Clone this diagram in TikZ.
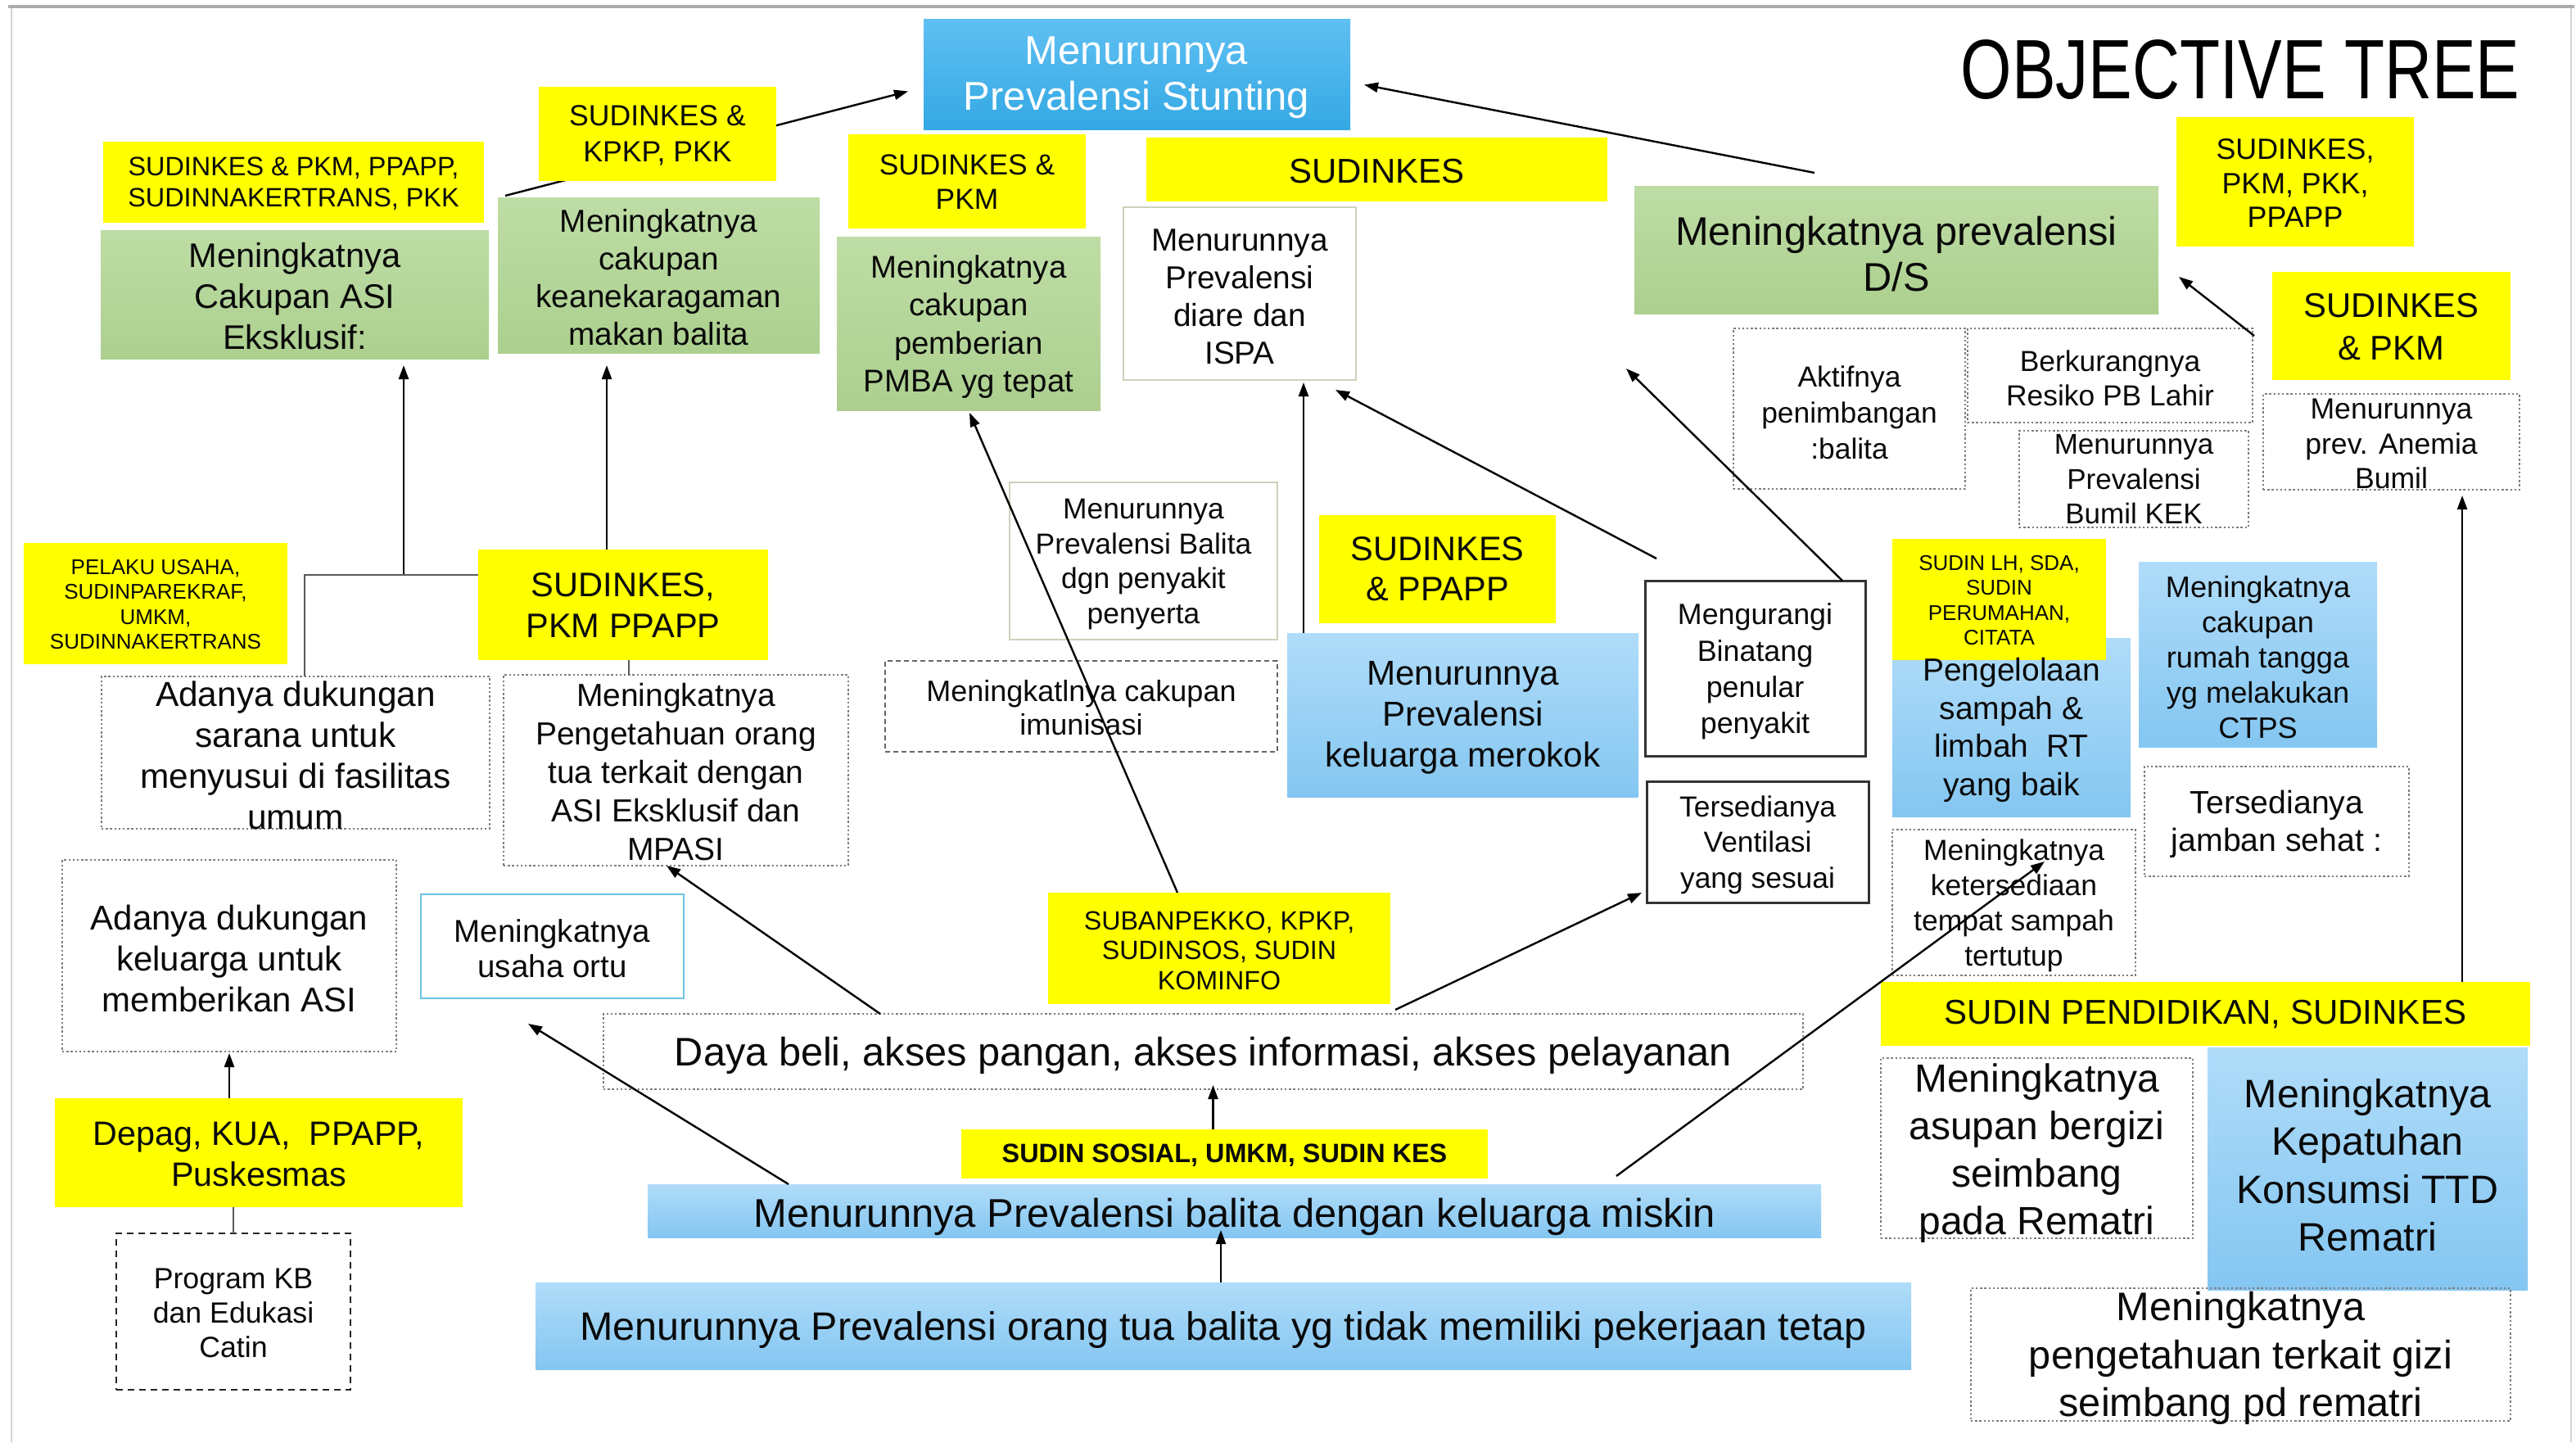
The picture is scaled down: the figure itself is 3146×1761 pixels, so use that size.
\documentclass[tikz,border=0pt]{standalone}
\usepackage{fontspec}
\setmainfont{Liberation Sans}
\newfontfamily\titlefont{Liberation Sans}[FakeStretch=0.78]
\usetikzlibrary{arrows.meta,fit,calc}
\definecolor{ylw}{RGB}{255,255,0}
\definecolor{grT}{RGB}{190,221,166}
\definecolor{grB}{RGB}{172,207,142}
\definecolor{blT}{RGB}{176,220,249}
\definecolor{blB}{RGB}{132,198,241}
\definecolor{stT}{RGB}{95,192,242}
\definecolor{stB}{RGB}{52,168,228}
\definecolor{dotgray}{RGB}{125,125,125}
\definecolor{txtc}{RGB}{10,10,10}
\newcommand\myfs[2]{\fontsize{#1pt}{#2pt}\selectfont}
\newcommand\mybox[6]{\node[#2, fit={(#3,#4) (#5,#6)}] (#1) {};}
\newcommand\mytext[5]{\node[txt, font=\myfs{#2}{#3}] (#1) at (#4) {#5};}
\tikzset{
  bx/.style={inner sep=0pt, outer sep=0pt},
  ybox/.style={bx, fill=ylw},
  gbox/.style={bx, top color=grT, bottom color=grB},
  bbox/.style={bx, top color=blT, bottom color=blB},
  stbox/.style={bx, top color=stT, bottom color=stB},
  wbox/.style={bx, fill=white, draw={rgb,255:red,205;green,210;blue,188}, line width=0.8pt},
  ubox/.style={bx, fill=white, draw={rgb,255:red,110;green,195;blue,230}, line width=1.2pt},
  dbox/.style={bx, draw=dotgray, line width=0.8pt, dash pattern=on 1.2pt off 1.4pt},
  dashbox/.style={bx, draw=black!60, line width=0.9pt, dash pattern=on 3pt off 2pt},
  kbbox/.style={bx, draw=black!85, line width=1.2pt, dash pattern=on 4pt off 3pt},
  sbox/.style={bx, fill=white, draw=black!80, line width=1.5pt},
  txt/.style={align=center, inner sep=0pt, text=txtc},
  arr/.style={draw=black, line width=1.2pt, -{Triangle[length=8.5pt,width=6pt]}},
  ln/.style={draw=black!65, line width=1pt},
}
\begin{document}
\begin{tikzpicture}[x=0.5pt, y=-0.5pt]
\useasboundingbox (0,0) rectangle (3146,1761);
\fill[white] (0,0) rectangle (3146,1761);
\draw[gray!35, line width=1pt] (14,1761) -- (14,8);
\draw[gray!35, line width=1pt] (3140,8) -- (3140,1761);
\draw[gray!65, line width=2pt] (10,8) -- (3144,8);

% ---- boxes ----
\mybox{stunt}{stbox}{1128}{23}{1649}{158}
\mybox{y1}{ybox}{126}{173}{591}{272}
\mybox{g1}{gbox}{123}{281}{597}{438}
\mybox{g2}{gbox}{608}{241}{1001}{431}
\draw[arr] ($(g2.north west)+(9,-2)$) -- ($(stunt.west)+(-19,21)$);
\mybox{y2}{ybox}{658}{106}{948}{221}
\mybox{y3}{ybox}{1036}{164}{1326}{279}
\mybox{pmba}{gbox}{1022}{289}{1344}{501}
\mybox{y4}{ybox}{1400}{168}{1963}{246}
\mybox{diare}{wbox}{1372}{253}{1656}{464}
\mybox{ds}{gbox}{1996}{227}{2636}{383}
\mybox{y5}{ybox}{2658}{143}{2948}{301}
\mybox{y6}{ybox}{2775}{332}{3066}{464}
\mybox{akt}{dbox}{2117}{401}{2400}{597}
\mybox{berk}{dbox}{2403}{401}{2751}{516}
\mybox{kek}{dbox}{2466}{526}{2746}{644}
\mybox{anem}{dbox}{2764}{481}{3077}{598}
\mybox{y7}{ybox}{29}{663}{351}{811}
\mybox{y8}{ybox}{584}{671}{938}{806}
\mybox{ada1}{dbox}{124}{826}{598}{1012}
\mybox{peng}{dbox}{615}{824}{1036}{1057}
\mybox{ada2}{dbox}{76}{1050}{484}{1284}
\mybox{usaha}{ubox}{514}{1092}{835}{1219}
\mybox{balp}{wbox}{1233}{589}{1560}{781}
\mybox{imun}{dashbox}{1081}{807}{1560}{918}
\mybox{y9}{ybox}{1611}{629}{1900}{761}
\mybox{mer}{bbox}{1572}{773}{2001}{973}
\mybox{meng}{sbox}{2009}{709}{2278}{923}
\mybox{vent}{sbox}{2011}{954}{2282}{1102}
\mybox{pengel}{bbox}{2311}{779}{2602}{997}
\mybox{y10}{ybox}{2311}{658}{2572}{806}
\mybox{ctps}{bbox}{2612}{686}{2903}{912}
\mybox{jamb}{dbox}{2619}{936}{2942}{1070}
\mybox{temp}{dbox}{2311}{1013}{2608}{1191}
\mybox{y11}{ybox}{1280}{1090}{1698}{1226}
\mybox{daya}{dbox}{737}{1238}{2202}{1330}
\mybox{y12}{ybox}{1174}{1379}{1817}{1439}
\mybox{mis}{bbox}{791}{1446}{2224}{1511}
\mybox{bot}{bbox}{654}{1566}{2334}{1672}
\mybox{y13}{ybox}{67}{1341}{565}{1474}
\mybox{kb}{kbbox}{142}{1506}{428}{1697}
\mybox{y14}{ybox}{2297}{1199}{3090}{1277}
\mybox{asup}{dbox}{2297}{1292}{2678}{1512}
\mybox{ttd}{bbox}{2696}{1279}{3087}{1575}
\mybox{pgz}{dbox}{2407}{1573}{3066}{1735}

% ---- texts ----
\node[txt, text=white, font=\myfs{24.5}{28}] (stuntt) at (1388,95) {Menurunnya\\Prevalensi Stunting};
\mytext{y1t}{16.2}{19}{358.5,224}{SUDINKES \& PKM, PPAPP,\\SUDINNAKERTRANS, PKK}
\mytext{g1t}{20.8}{25}{360,361.5}{Meningkatnya\\Cakupan ASI\\Eksklusif:}
\mytext{y2t}{17.8}{22}{803,165.5}{SUDINKES \&\\KPKP, PKK}
\mytext{g2t}{19.4}{23}{804.5,339}{Meningkatnya\\cakupan\\keanekaragaman\\makan balita}
\mytext{y3t}{17.7}{21}{1181,222}{SUDINKES \&\\PKM}
\mytext{pmbat}{19.2}{23.3}{1183,399}{Meningkatnya\\cakupan\\pemberian\\PMBA yg tepat}
\mytext{y4t}{21}{25}{1681.5,208.6}{SUDINKES}
\mytext{diaret}{19.4}{23}{1514,362}{Menurunnya\\Prevalensi\\diare dan\\ISPA}
\mytext{dst}{24.4}{28}{2316,310}{Meningkatnya prevalensi\\D/S}
\mytext{y5t}{17.9}{20.7}{2803,223.5}{SUDINKES,\\PKM, PKK,\\PPAPP}
\mytext{y6t}{20.9}{26}{2920.5,399}{SUDINKES\\\& PKM}
\mytext{aktt}{17.7}{22}{2258.5,503.5}{Aktifnya\\penimbangan\\:balita}
\mytext{berkt}{17.7}{21}{2577,462}{Berkurangnya\\Resiko PB Lahir}
\mytext{kekt}{17.5}{21.3}{2606,585.5}{Menurunnya\\Prevalensi\\Bumil KEK}
\mytext{anemt}{17.8}{21.2}{2920.5,542}{Menurunnya\\prev. Anemia\\Bumil}
\mytext{y7t}{13}{15.3}{190,738}{PELAKU USAHA,\\SUDINPAREKRAF,\\UMKM,\\SUDINNAKERTRANS}
\mytext{y8t}{20.8}{25}{761,739}{SUDINKES,\\PKM PPAPP}
\mytext{ada1t}{21.2}{25}{361,922.5}{Adanya dukungan\\sarana untuk\\menyusui di fasilitas\\umum}
\mytext{pengt}{19.5}{23.5}{825.5,943}{Meningkatnya\\Pengetahuan orang\\tua terkait dengan\\ASI Eksklusif dan\\MPASI}
\mytext{ada2t}{21}{25}{280,1170}{Adanya dukungan\\keluarga untuk\\memberikan ASI}
\mytext{usahat}{19.25}{21.5}{674.5,1158.5}{Meningkatnya\\usaha ortu}
\mytext{balpt}{17.7}{21.3}{1396.5,689}{Menurunnya\\Prevalensi Balita\\dgn penyakit\\penyerta}
\mytext{imunt}{18}{20.5}{1320.5,864.5}{Meningkatlnya cakupan\\imunisasi}
\mytext{y9t}{20.75}{24.5}{1755.5,694.5}{SUDINKES\\\& PPAPP}
\mytext{mert}{21.1}{25}{1786.5,876.5}{Menurunnya\\Prevalensi\\keluarga merokok}
\mytext{mengt}{17.9}{22.2}{2143.5,820}{Mengurangi\\Binatang\\penular\\penyakit}
\mytext{ventt}{17.7}{21.7}{2146.5,1031.5}{Tersedianya\\Ventilasi\\yang sesuai}
\mytext{pengelt}{19.5}{23.2}{2456.5,891.5}{Pengelolaan\\sampah \&\\limbah\ \ RT\\yang baik}
\mytext{y10t}{13}{15.3}{2441.5,733}{SUDIN LH, SDA,\\SUDIN\\PERUMAHAN,\\CITATA}
\mytext{ctpst}{18.1}{21.4}{2757.5,802.5}{Meningkatnya\\cakupan\\rumah tangga\\yg melakukan\\CTPS}
\mytext{jambt}{19.6}{23}{2780.5,1006}{Tersedianya\\jamban sehat :}
\mytext{tempt}{17.75}{21.5}{2459.5,1105.5}{Meningkatnya\\ketersediaan\\tempat sampah\\tertutup}
\mytext{y11t}{16.1}{18.25}{1489,1160.5}{SUBANPEKKO, KPKP,\\SUDINSOS, SUDIN\\KOMINFO}
\mytext{dayat}{24.35}{28}{1469.5,1289}{Daya beli, akses pangan, akses informasi, akses pelayanan}
\node[txt, font=\bfseries\myfs{16.2}{19}] (y12t) at (1495.5,1411) {SUDIN SOSIAL, UMKM, SUDIN KES};
\mytext{mist}{24.45}{28}{1507.5,1486}{Menurunnya Prevalensi balita dengan keluarga miskin}
\mytext{bott}{24.2}{28}{1494,1624}{Menurunnya Prevalensi orang tua balita yg tidak memiliki pekerjaan tetap}
\mytext{y13t}{20.65}{25}{316,1409}{Depag, KUA,\ \ PPAPP,\\Puskesmas}
\mytext{kbt}{17.85}{21}{285,1603}{Program KB\\dan Edukasi\\Catin}
\mytext{y14t}{21}{25}{2693.5,1239}{SUDIN PENDIDIKAN, SUDINKES}
\mytext{asupt}{24}{29}{2487.5,1408}{Meningkatnya\\asupan bergizi\\seimbang\\pada Rematri}
\mytext{ttdt}{24.2}{29.2}{2891.5,1422.5}{Meningkatnya\\Kepatuhan\\Konsumsi TTD\\Rematri}
\mytext{pgzt}{24.35}{29.25}{2736.5,1658.5}{Meningkatnya\\pengetahuan terkait gizi\\seimbang pd rematri}
\node[txt, font=\titlefont\fontsize{51.5pt}{60pt}\selectfont, text=black] (title) at (2736,85) {OBJECTIVE TREE};

% ---- connectors ----
\coordinate (j1) at (493,702);
\coordinate (t9) at (645,1250);
\coordinate (t10) at (2497,1052);
\coordinate (t13) at (1986,450);
\draw[arr] ($(ds.north west)+(220,-16)$) -- ($(stunt.east)+(17,13)$);
\draw[arr] (j1) -- ($(g1.south)+(133,8)$);
\draw[arr] ($(y8.north)+(-20,0)$) -- ($(g2.south)+(-63.5,15)$);
\draw[ln] ($(ada1.north)+(11,0)$) |- ($(y8.north west)+(0,31)$);
\draw[ln] ($(y8.south)+(7,0)$) -- ($(peng.north)+(-57.5,0)$);
\draw[arr] ($(daya.north west)+(338,0)$) -- ($(peng.south)+(-11.5,0)$);
\draw[arr] ($(y11.north west)+(158,0)$) -- ($(pmba.south)+(1,3)$);
\draw[arr] ($(y12.north)+(-14,0)$) -- ($(daya.south)+(12,-5)$);
\draw[arr] ($(bot.north)+(-3,0)$) -- ($(bot.north |- mis.south)+(-3,-9)$);
\draw[arr] ($(mis.north west)+(172,0)$) -- (t9);
\draw[arr] ($(mis.north west)+(1183,-10)$) -- (t10);
\draw[arr] ($(daya.north west)+(967,-5)$) -- ($(vent.south west)+(-6,-12)$);
\draw[arr] ($(meng.north west)+(14,-27)$) -- ($(diare.south east)+(-25,12)$);
\draw[arr] ($(meng.north west)+(241,0)$) -- (t13);
\draw[arr] ($(mer.north west)+(20,0)$) -- ($(diare.south west)+(220,3)$);
\draw[arr] ($(berk.north east)+(2,9)$) -- ($(ds.south east)+(25,-45)$);
\draw[arr] ($(y14.north west)+(710,0)$) -- ($(anem.south west)+(243,7)$);
\draw[arr] (y13.north -| ada2.south) -- ($(ada2.south)+(0,2)$);
\draw[ln] (kb.north) -- (kb.north |- y13.south);
\end{tikzpicture}
\end{document}
